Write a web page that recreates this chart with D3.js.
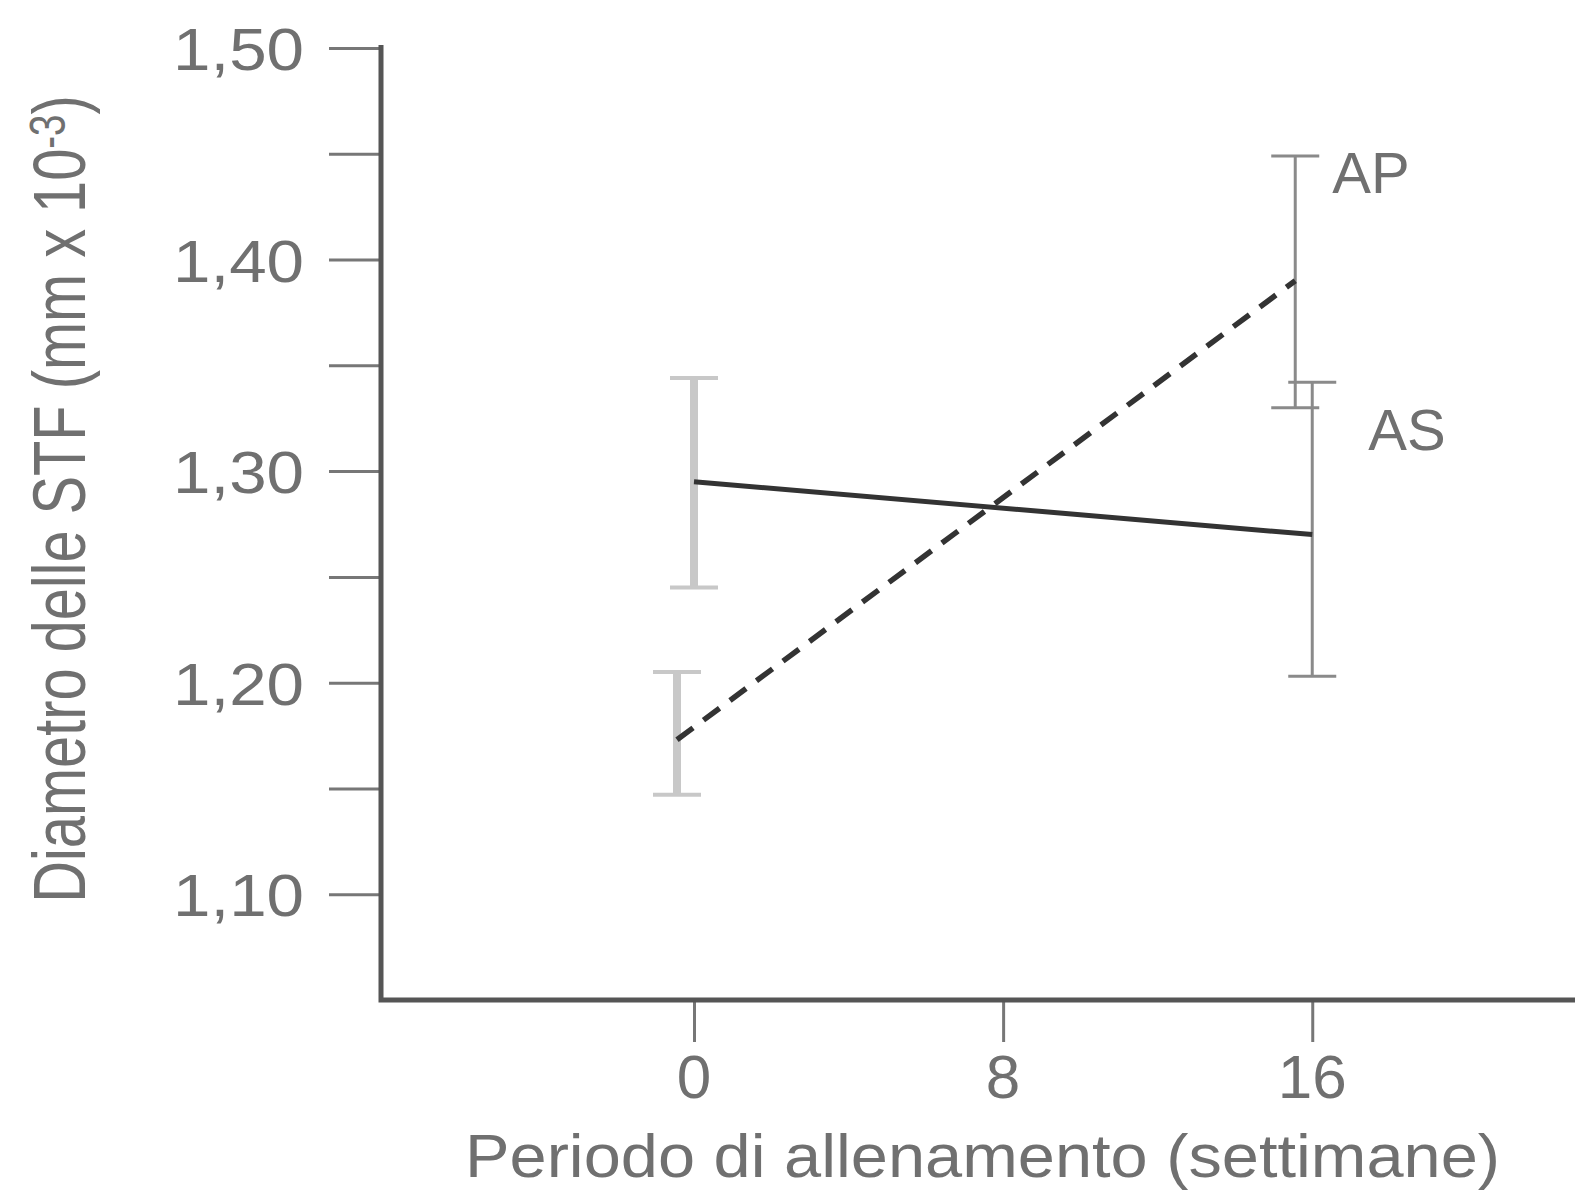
<!DOCTYPE html>
<html>
<head>
<meta charset="utf-8">
<script src="https://cdn.jsdelivr.net/npm/d3@7"></script>
<style>
  body { margin: 0; background: #fff; }
  text { font-family: "Liberation Sans", Arial, sans-serif; fill: #707070; }
</style>
</head>
<body>
<script>
var weeks = [0, 16];
var tickWeeks = [0, 8, 16];
var yMajorTicks = [1.10, 1.20, 1.30, 1.40, 1.50];
var yMinorTicks = [1.15, 1.25, 1.35, 1.45];
var tickLabels = ["1,10", "1,20", "1,30", "1,40", "1,50"];

// AS = solid line, AP = dashed line
var asMean = [1.295, 1.270];
var asLow = [1.245, 1.203];
var asHigh = [1.344, 1.342];
var apMean = [1.173, 1.390];
var apLow = [1.147, 1.330];
var apHigh = [1.205, 1.449];

var width = 1575, height = 1191;
var margin = {left: 381, top: 48, bottom: 191};

var svg = d3.select("body").append("svg")
    .attr("width", width)
    .attr("height", height);

var x = d3.scaleLinear().domain([-8.1, 22.8]).range([margin.left, width]);
var y = d3.scaleLinear().domain([1.05, 1.50]).range([height - margin.bottom, margin.top]);

var axisColor = "#555", tickColor = "#777";

// y axis: major + minor ticks
svg.append("g")
    .attr("transform", "translate(" + margin.left + ",0)")
    .call(d3.axisLeft(y).tickValues(yMajorTicks.concat(yMinorTicks)).tickSize(52).tickFormat(""))
    .call(function(g) {
        g.select(".domain").remove();
        g.selectAll(".tick line").attr("stroke", tickColor).attr("stroke-width", 3);
    });

svg.selectAll(".ylab")
    .data(yMajorTicks)
    .enter()
    .append("text")
    .attr("class", "ylab")
    .attr("x", 304)
    .attr("y", function(d) { return y(d) + 22; })
    .attr("text-anchor", "end")
    .attr("textLength", 131)
    .attr("lengthAdjust", "spacingAndGlyphs")
    .style("font-size", "60px")
    .text(function(d, i) { return tickLabels[i]; });

// x axis ticks
svg.append("g")
    .attr("transform", "translate(0," + (height - margin.bottom) + ")")
    .call(d3.axisBottom(x).tickValues(tickWeeks).tickSize(42).tickFormat(""))
    .call(function(g) {
        g.select(".domain").remove();
        g.selectAll(".tick line").attr("stroke", tickColor).attr("stroke-width", 3);
    });

svg.selectAll(".xlab")
    .data(tickWeeks)
    .enter()
    .append("text")
    .attr("class", "xlab")
    .attr("x", function(d) { return x(d); })
    .attr("y", 1098)
    .attr("text-anchor", "middle")
    .style("font-size", "62px")
    .text(function(d) { return d; });

// axis lines
svg.append("path")
    .attr("d", "M" + margin.left + "," + (margin.top - 3) + "V" + y(1.05) + "H" + width)
    .attr("fill", "none")
    .attr("stroke", axisColor)
    .attr("stroke-width", 5);

// axis titles
svg.append("text")
    .attr("x", 465)
    .attr("y", 1177)
    .attr("textLength", 1035)
    .attr("lengthAdjust", "spacingAndGlyphs")
    .style("font-size", "61px")
    .text("Periodo di allenamento (settimane)");

var yTitle = svg.append("g")
    .attr("transform", "translate(85,499) rotate(-90) scale(0.77,1)")
    .append("text")
    .attr("text-anchor", "middle")
    .style("font-size", "75px");
yTitle.append("tspan").text("Diametro delle STF (mm x 10");
yTitle.append("tspan").attr("dy", -20).style("font-size", "50px").text("-3");
yTitle.append("tspan").attr("dy", 20).text(")");

// error bars
var apDodge = -17;
var capW = 24;
function errorBars(lo, hi, dodge, cls) {
    var g = svg.selectAll("." + cls)
        .data(weeks)
        .enter()
        .append("g")
        .attr("class", cls)
        .attr("stroke", function(d, i) { return i === 0 ? "#c8c8c8" : "#8a8a8a"; });
    g.append("line")
        .attr("x1", function(d) { return x(d) + dodge; })
        .attr("x2", function(d) { return x(d) + dodge; })
        .attr("y1", function(d, i) { return y(lo[i]); })
        .attr("y2", function(d, i) { return y(hi[i]); })
        .attr("stroke-width", function(d, i) { return i === 0 ? 8 : 3; });
    [lo, hi].forEach(function(arr) {
        g.append("line")
            .attr("x1", function(d) { return x(d) + dodge - capW; })
            .attr("x2", function(d) { return x(d) + dodge + capW; })
            .attr("y1", function(d, i) { return y(arr[i]); })
            .attr("y2", function(d, i) { return y(arr[i]); })
            .attr("stroke-width", function(d, i) { return i === 0 ? 4 : 3; });
    });
}
errorBars(asLow, asHigh, 0, "err-as");
errorBars(apLow, apHigh, apDodge, "err-ap");

// series lines
svg.append("path")
    .datum(weeks)
    .attr("fill", "none")
    .attr("stroke", "#333")
    .attr("stroke-width", 5)
    .attr("d", d3.line()
        .x(function(d) { return x(d); })
        .y(function(d, i) { return y(asMean[i]); }));

svg.append("path")
    .datum(weeks)
    .attr("fill", "none")
    .attr("stroke", "#333")
    .attr("stroke-width", 5.5)
    .attr("stroke-dasharray", "20,13")
    .attr("d", d3.line()
        .x(function(d) { return x(d) + apDodge; })
        .y(function(d, i) { return y(apMean[i]); }));

// series labels
svg.append("text")
    .attr("x", x(16) + apDodge + 37)
    .attr("y", 193)
    .style("font-size", "58px")
    .text("AP");

svg.append("text")
    .attr("x", x(16) + 56)
    .attr("y", 450)
    .style("font-size", "58px")
    .text("AS");
</script>
</body>
</html>
